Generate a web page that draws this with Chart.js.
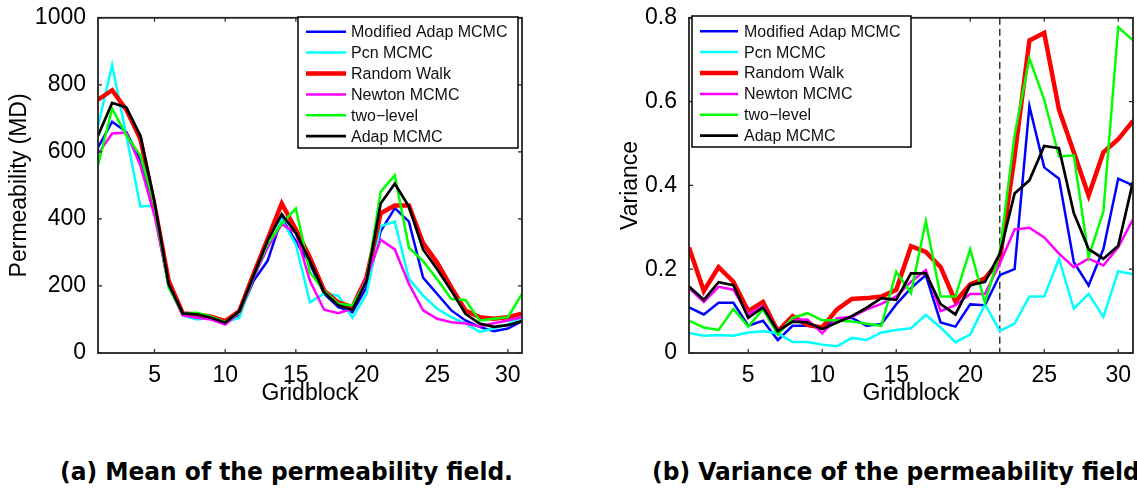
<!DOCTYPE html>
<html>
<head>
<meta charset="utf-8">
<script src="https://cdn.jsdelivr.net/npm/chart.js@4/dist/chart.umd.min.js"></script>
<style>
  html, body { margin: 0; padding: 0; background: #fff; width: 1137px; height: 489px; overflow: hidden; position: relative; }
  .panel { position: absolute; top: 0; }
  .cap { position: absolute; top: 458px; font-family: "DejaVu Sans", sans-serif; font-weight: bold; font-size: 24px; line-height: 28px; white-space: nowrap; color: #000; transform-origin: left center; }
</style>
</head>
<body>
<div class="panel" style="left:0px"><canvas id="meanChart" width="560" height="420"></canvas></div>
<div class="panel" style="left:580px"><canvas id="varChart" width="557" height="420"></canvas></div>
<div class="cap" id="capA" style="left:60px">(a) Mean of the permeability field.</div>
<div class="cap" id="capB" style="left:652px">(b) Variance of the permeability field.</div>

<script>
// gridblock index 1..31
const gridblocks = [1,2,3,4,5,6,7,8,9,10,11,12,13,14,15,16,17,18,19,20,21,22,23,24,25,26,27,28,29,30,31];
const xTicks = [5, 10, 15, 20, 25, 30];
const meanTicks = [0, 200, 400, 600, 800, 1000];
const varTicks = [0, 0.2, 0.4, 0.6, 0.8];

const seriesNames = ["Modified Adap MCMC", "Pcn MCMC", "Random Walk", "Newton MCMC", "two\u2212level", "Adap MCMC"];

// mean of permeability field (MD)
const meanModAdap = [613,690,660,575,430,200,115,110,105,90,115,215,275,402,333,265,177,137,122,196,363,432,392,225,176,127,97,78,65,73,95];
const meanPcn     = [677,859,650,437,440,200,112,100,105,92,105,225,315,398,324,151,177,171,105,177,378,392,221,171,132,107,88,63,73,86,105];
const meanRW      = [756,784,726,638,440,215,118,115,108,95,125,235,340,446,368,284,186,151,137,225,417,440,440,328,269,196,127,107,102,107,117];
const meanNewton  = [594,655,658,560,410,200,112,105,100,85,120,225,315,384,358,215,129,119,132,225,338,309,206,127,102,92,88,79,89,97,107];
const meanTwoLvl  = [560,729,650,589,440,195,118,120,108,92,122,230,325,387,431,240,186,147,142,215,481,530,314,274,220,161,158,97,102,107,176];
const meanAdap    = [648,746,733,648,450,205,118,115,105,90,125,230,335,414,358,274,181,142,129,215,446,505,437,309,250,186,117,88,78,83,95];

// variance of permeability field
const varModAdap = [0.109,0.092,0.120,0.120,0.065,0.077,0.031,0.065,0.065,0.061,0.080,0.084,0.065,0.069,0.116,0.155,0.186,0.073,0.063,0.116,0.114,0.186,0.200,0.589,0.443,0.416,0.217,0.161,0.248,0.416,0.400];
const varPcn     = [0.048,0.041,0.043,0.041,0.049,0.052,0.047,0.026,0.026,0.020,0.016,0.036,0.031,0.049,0.055,0.059,0.091,0.061,0.026,0.044,0.116,0.053,0.070,0.135,0.135,0.225,0.106,0.141,0.086,0.195,0.188];
const varRW      = [0.252,0.148,0.205,0.170,0.100,0.122,0.052,0.088,0.067,0.061,0.104,0.129,0.131,0.135,0.151,0.255,0.241,0.205,0.123,0.164,0.178,0.221,0.470,0.746,0.764,0.581,0.479,0.376,0.479,0.510,0.554];
const varNewton  = [0.155,0.122,0.158,0.151,0.092,0.112,0.050,0.078,0.080,0.047,0.083,0.086,0.104,0.117,0.135,0.170,0.198,0.100,0.114,0.141,0.141,0.213,0.295,0.299,0.276,0.237,0.205,0.225,0.209,0.252,0.319];
const varTwoLvl  = [0.077,0.061,0.055,0.105,0.063,0.104,0.044,0.084,0.095,0.078,0.078,0.075,0.070,0.065,0.194,0.143,0.315,0.135,0.135,0.248,0.120,0.240,0.520,0.703,0.605,0.469,0.472,0.229,0.338,0.778,0.746];
const varAdap    = [0.159,0.127,0.169,0.162,0.084,0.109,0.052,0.075,0.073,0.057,0.073,0.088,0.108,0.131,0.127,0.190,0.190,0.117,0.092,0.162,0.170,0.237,0.381,0.412,0.494,0.489,0.334,0.248,0.225,0.256,0.409];

const splitBlock = 22;

const colors = ["#0000ff", "#00ffff", "#ff0000", "#ff00ff", "#00ff00", "#000000"];
const widths = [2.5, 2.5, 4.5, 2.5, 2.5, 2.7];
const FONT = "'Liberation Sans', Arial, sans-serif";

function makeDatasets(series) {
  return series.map((vals, i) => ({
    label: seriesNames[i],
    data: vals.map((v, k) => ({ x: gridblocks[k], y: v })),
    borderColor: colors[i],
    backgroundColor: colors[i],
    borderWidth: widths[i],
    pointRadius: 0,
    tension: 0,
    order: series.length - i
  }));
}

const framePlugin = {
  id: "frame",
  beforeDatasetsDraw(chart, args, opts) {
    if (opts.marker == null) return;
    const { ctx, chartArea: a, scales: { x } } = chart;
    const px = x.getPixelForValue(opts.marker);
    ctx.save();
    ctx.strokeStyle = "#000";
    ctx.lineWidth = 1.2;
    ctx.setLineDash([7, 4]);
    ctx.beginPath();
    ctx.moveTo(px, a.top);
    ctx.lineTo(px, a.bottom);
    ctx.stroke();
    ctx.restore();
  },
  afterDatasetsDraw(chart, args, opts) {
    const { ctx, chartArea: a, scales: { x, y } } = chart;
    ctx.save();
    ctx.strokeStyle = "#222";
    ctx.lineWidth = 1.8;
    ctx.strokeRect(a.left, a.top, a.width, a.height);
    ctx.lineWidth = 1.2;
    ctx.beginPath();
    x.ticks.forEach(t => {
      const px = x.getPixelForValue(t.value);
      ctx.moveTo(px, a.bottom); ctx.lineTo(px, a.bottom - 4);
      ctx.moveTo(px, a.top); ctx.lineTo(px, a.top + 4);
    });
    y.ticks.forEach(t => {
      const py = y.getPixelForValue(t.value);
      ctx.moveTo(a.left, py); ctx.lineTo(a.left + 4, py);
      ctx.moveTo(a.right, py); ctx.lineTo(a.right - 4, py);
    });
    ctx.stroke();

    // legend box
    const b = opts.legend;
    ctx.fillStyle = "#fff";
    ctx.fillRect(b.x, b.y, b.w, b.h);
    ctx.strokeStyle = "#000";
    ctx.lineWidth = 1.5;
    ctx.strokeRect(b.x, b.y, b.w, b.h);
    ctx.font = "16px " + FONT;
    ctx.textBaseline = "middle";
    ctx.textAlign = "left";
    chart.data.datasets.forEach((ds, i) => {
      const cy = b.y + b.first + i * b.step;
      ctx.strokeStyle = ds.borderColor;
      ctx.lineWidth = ds.borderWidth;
      ctx.beginPath();
      ctx.moveTo(b.x + b.s0, cy);
      ctx.lineTo(b.x + b.s1, cy);
      ctx.stroke();
      ctx.fillStyle = "#111";
      ctx.fillText(ds.label, b.x + b.tx, cy + 1);
    });
    ctx.restore();
  }
};

function axisOptions(ticksArr, min, max, yTitle, yWidth, yTitlePad) {
  return {
    x: {
      type: "linear", min: 1, max: 31,
      afterBuildTicks: s => { s.ticks = xTicks.map(v => ({ value: v })); },
      afterFit: s => { s.height = 67; },
      grid: { display: false }, border: { display: false },
      ticks: { color: "#000", font: { family: FONT, size: 23 }, padding: 1, maxRotation: 0, autoSkip: false },
      title: { display: true, text: "Gridblock", color: "#000", font: { family: FONT, size: 23 }, padding: { top: 0, bottom: 13 } }
    },
    y: {
      type: "linear", min: min, max: max,
      afterBuildTicks: s => { s.ticks = ticksArr.map(v => ({ value: v })); },
      afterFit: s => { s.width = yWidth; },
      grid: { display: false }, border: { display: false },
      ticks: { color: "#000", font: { family: FONT, size: 23 }, padding: 4, callback: v => String(v) },
      title: { display: true, text: yTitle, color: "#000", font: { family: FONT, size: 23 }, padding: { top: yTitlePad, bottom: 0 } }
    }
  };
}

new Chart(document.getElementById("meanChart").getContext("2d"), {
  type: "line",
  data: { datasets: makeDatasets([meanModAdap, meanPcn, meanRW, meanNewton, meanTwoLvl, meanAdap]) },
  options: {
    responsive: false, animation: false, devicePixelRatio: 1,
    layout: { padding: { top: 14, right: 38, left: 0, bottom: 0 } },
    scales: axisOptions(meanTicks, 0, 1000, "Permeability (MD)", 98, 6),
    plugins: {
      legend: { display: false }, tooltip: { enabled: false },
      frame: { marker: null, legend: { x: 298, y: 17, w: 220, h: 131, first: 14.7, step: 20.9, s0: 8, s1: 48, tx: 53 } }
    }
  },
  plugins: [framePlugin]
});

new Chart(document.getElementById("varChart").getContext("2d"), {
  type: "line",
  data: { datasets: makeDatasets([varModAdap, varPcn, varRW, varNewton, varTwoLvl, varAdap]) },
  options: {
    responsive: false, animation: false, devicePixelRatio: 1,
    layout: { padding: { top: 14, right: 4, left: 0, bottom: 0 } },
    scales: axisOptions(varTicks, 0, 0.8, "Variance", 109, 37),
    plugins: {
      legend: { display: false }, tooltip: { enabled: false },
      frame: { marker: splitBlock, legend: { x: 112, y: 16, w: 219, h: 131, first: 15.2, step: 20.9, s0: 8, s1: 46, tx: 52 } }
    }
  },
  plugins: [framePlugin]
});

// fit the caption to the width of the original lettering
const capA = document.getElementById("capA");
const capB = document.getElementById("capB");
const k = 453 / capA.getBoundingClientRect().width;
capA.style.transform = "scaleX(" + k + ")";
capB.style.transform = "scaleX(" + k + ")";
</script>
</body>
</html>
